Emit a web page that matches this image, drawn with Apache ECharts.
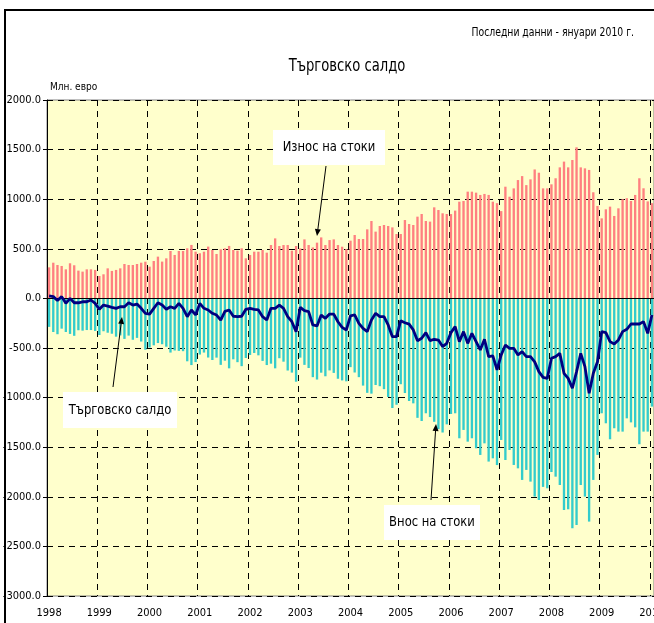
<!DOCTYPE html>
<html>
<head>
<meta charset="utf-8">
<script src="https://cdn.jsdelivr.net/npm/echarts@6/dist/echarts.min.js"></script>
<style>
  html, body { margin: 0; padding: 0; background: #fff; }
  #chart_saldo { width: 654px; height: 623px; }
</style>
</head>
<body>
<div id="chart_saldo"></div>
<script>
/**
 * Търговско салдо - месечни данни 1998 - 01.2010
 */
var years = ['1998', '1999', '2000', '2001', '2002', '2003', '2004', '2005', '2006', '2007', '2008', '2009', '2010'];

// износ на стоки, млн. евро
var exportsData = [
    313, 360, 337, 327, 293, 354, 334, 280, 270, 293, 293, 287,
    226, 243, 303, 277, 287, 303, 347, 337, 337, 347, 360, 370,
    320, 377, 421, 371, 404, 478, 438, 478, 478, 505, 539, 471,
    455, 471, 522, 488, 448, 495, 505, 529, 488, 481, 505, 404,
    437, 471, 471, 488, 461, 538, 605, 528, 538, 538, 481, 528,
    504, 595, 538, 514, 562, 615, 538, 588, 595, 538, 521, 497,
    582, 639, 599, 599, 696, 780, 673, 730, 740, 730, 716, 649,
    649, 790, 750, 740, 824, 851, 780, 774, 918, 891, 858, 851,
    850, 885, 975, 982, 1076, 1076, 1066, 1043, 1053, 1043, 975, 960,
    880, 1126, 1025, 1109, 1193, 1233, 1142, 1200, 1300, 1267, 1109, 1109,
    1150, 1211, 1321, 1379, 1321, 1395, 1523, 1321, 1311, 1295, 1070, 932,
    807, 898, 925, 831, 908, 1000, 1010, 982, 1043, 1211, 1110, 978,
    960
];

// внос на стоки, млн. евро
var importsData = [
    -287, -339, -361, -305, -339, -358, -377, -321, -325, -319, -319, -328,
    -369, -331, -346, -356, -386, -373, -408, -375, -417, -398, -435, -517,
    -495, -473, -450, -462, -487, -546, -525, -529, -532, -634, -672, -642,
    -566, -546, -596, -621, -597, -670, -628, -705, -614, -643, -683, -601,
    -570, -550, -574, -630, -672, -658, -705, -603, -638, -727, -748, -840,
    -597, -670, -702, -794, -818, -749, -785, -726, -751, -810, -827, -836,
    -693, -747, -794, -879, -952, -960, -873, -885, -915, -994, -1105, -1072,
    -865, -954, -1034, -1058, -1204, -1236, -1158, -1196, -1244, -1318, -1352, -1270,
    -1165, -1158, -1410, -1326, -1444, -1410, -1511, -1578, -1461, -1645, -1612, -1680,
    -1427, -1629, -1528, -1679, -1713, -1830, -1729, -1847, -1998, -2032, -1900, -1914,
    -1750, -1797, -1881, -2133, -2126, -2317, -2284, -1881, -1998, -2250, -1830, -1578,
    -1158, -1259, -1420, -1309, -1343, -1343, -1209, -1250, -1300, -1470, -1343, -1343,
    -1091
];

// търговско салдо, млн. евро
var balanceData = [
    25, 18, -22, 18, -50, 0, -44, -44, -34, -34, -16, -50,
    -110, -67, -77, -90, -100, -84, -84, -44, -67, -57, -100, -151,
    -158, -100, -44, -67, -110, -84, -100, -50, -100, -184, -117, -167,
    -50, -100, -117, -150, -168, -218, -130, -117, -180, -184, -180, -110,
    -100, -110, -116, -184, -218, -100, -100, -67, -100, -184, -235, -336,
    -90, -124, -134, -268, -278, -168, -201, -158, -158, -235, -292, -319,
    -175, -167, -251, -302, -335, -218, -150, -184, -184, -268, -386, -386,
    -225, -245, -260, -318, -426, -402, -345, -426, -412, -420, -486, -453,
    -345, -285, -436, -335, -453, -352, -436, -520, -412, -587, -580, -720,
    -570, -470, -503, -503, -570, -537, -587, -587, -640, -738, -796, -806,
    -604, -587, -554, -755, -806, -906, -738, -554, -688, -957, -755, -638,
    -335, -345, -436, -460, -419, -335, -312, -258, -258, -258, -234, -352,
    -167
];

var months = [];
years.forEach(function (y) {
    for (var m = 1; m <= 12; m++) {
        if (y === '2010' && m > 1) break;
        months.push(y + '-' + (m < 10 ? '0' + m : m));
    }
});

var FONT = '"DejaVu Sans Condensed", "Liberation Sans Narrow", sans-serif';

function yearStart(index) {
    return index % 12 === 0;
}

function arrow(x1, y1, x2, y2) {
    var a = Math.atan2(y2 - y1, x2 - x1);
    var len = 7, w = 3;
    var bx = x2 - len * Math.cos(a), by = y2 - len * Math.sin(a);
    return [
        {
            type: 'line', silent: true, z: 30,
            shape: { x1: x1, y1: y1, x2: bx, y2: by },
            style: { stroke: '#000', lineWidth: 1 }
        },
        {
            type: 'polygon', silent: true, z: 30,
            shape: {
                points: [
                    [x2, y2],
                    [bx - w * Math.sin(a), by + w * Math.cos(a)],
                    [bx + w * Math.sin(a), by - w * Math.cos(a)]
                ]
            },
            style: { fill: '#000' }
        }
    ];
}

function noteBox(x, y, w, h, text) {
    return [
        {
            type: 'rect', silent: true, z: 30,
            shape: { x: x, y: y, width: w, height: h },
            style: { fill: '#fff' }
        },
        {
            type: 'text', silent: true, z: 31, x: x + w / 2, y: y + h / 2, scaleX: 0.92,
            style: { text: text, font: '14px ' + FONT, fill: '#000', align: 'center', verticalAlign: 'middle' }
        }
    ];
}

var chart_saldo = echarts.init(document.getElementById('chart_saldo'));

var chart_saldo_option = {
    backgroundColor: '#fff',
    animation: false,
    grid: {
        left: 47,
        top: 100,
        width: 607,
        height: 496,
        outerBoundsMode: 'none',
        containLabel: false,
        show: true,
        backgroundColor: '#FFFFCC',
        borderColor: '#808080',
        borderWidth: 1
    },
    xAxis: {
        type: 'category',
        data: months,
        boundaryGap: true,
        axisLine: { lineStyle: { color: '#808080', width: 1 } },
        axisTick: { interval: yearStart, length: 4, lineStyle: { color: '#000' } },
        axisLabel: {
            interval: yearStart,
            formatter: function (v) { return v.slice(0, 4); },
            color: '#000',
            fontFamily: FONT,
            fontSize: 11,
            margin: 12
        },
        splitLine: {
            show: true,
            interval: yearStart,
            lineStyle: { color: '#000', type: [6, 5], width: 1 }
        }
    },
    yAxis: {
        type: 'value',
        min: -3000,
        max: 2000,
        interval: 500,
        axisLine: { show: true, lineStyle: { color: '#000', width: 1 } },
        axisTick: { show: true, length: 4, lineStyle: { color: '#000' } },
        axisLabel: {
            formatter: function (v) { return v.toFixed(1); },
            color: '#000',
            fontFamily: FONT,
            fontSize: 11,
            margin: 6
        },
        splitLine: { lineStyle: { color: '#000', type: [6, 5], width: 1 } }
    },
    series: [
        {
            name: 'Внос на стоки',
            type: 'bar',
            data: importsData,
            barWidth: '56%',
            barGap: '-100%',
            itemStyle: { color: '#33CCCC' }
        },
        {
            name: 'Износ на стоки',
            type: 'bar',
            data: exportsData,
            barWidth: '56%',
            barGap: '-100%',
            itemStyle: { color: '#FF8080' }
        },
        {
            name: 'Търговско салдо',
            type: 'line',
            data: balanceData,
            showSymbol: false,
            z: 5,
            lineStyle: { color: '#000080', width: 2.8 },
            itemStyle: { color: '#000080' },
            markLine: {
                silent: true,
                symbol: 'none',
                label: { show: false },
                lineStyle: { color: '#000', type: 'solid', width: 1 },
                data: [{ yAxis: 0 }]
            }
        }
    ],
    graphic: [
        {
            type: 'rect', silent: true, z: 30,
            shape: { x: 5, y: 10, width: 720, height: 700 },
            style: { fill: 'none', stroke: '#000', lineWidth: 2 }
        },
        {
            type: 'text', x: 634, y: 33, z: 30, scaleX: 0.86,
            style: { text: 'Последни данни - януари 2010 г.', font: '12px ' + FONT, fill: '#000', align: 'right', verticalAlign: 'middle' }
        },
        {
            type: 'text', x: 347, y: 67, z: 30, scaleX: 0.86,
            style: { text: 'Търговско салдо', font: '17px ' + FONT, fill: '#000', align: 'center', verticalAlign: 'middle' }
        },
        {
            type: 'text', x: 50, y: 87, z: 30,
            style: { text: 'Млн. евро', font: '10px ' + FONT, fill: '#000', align: 'left', verticalAlign: 'middle' }
        }
    ].concat(noteBox(273, 130, 112, 35, 'Износ на стоки'))
     .concat(noteBox(63, 392, 114, 36, 'Търговско салдо'))
     .concat(noteBox(384, 505, 96, 35, 'Внос на стоки'))
     .concat(arrow(326, 166, 317, 236))
     .concat(arrow(113, 387, 122, 317))
     .concat(arrow(431, 500, 436, 424))
};
chart_saldo.setOption(chart_saldo_option);
</script>
</body>
</html>
